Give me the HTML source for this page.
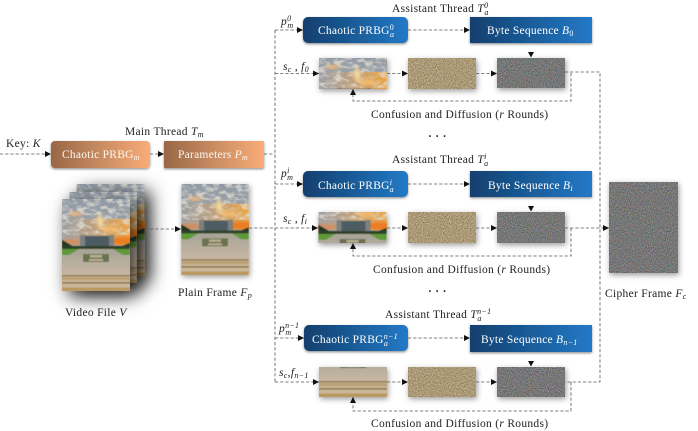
<!DOCTYPE html>
<html><head><meta charset="utf-8"><style>
html,body{margin:0;padding:0;background:#fff;width:698px;height:431px;overflow:hidden}
svg{display:block}
text{font-family:"Liberation Serif",serif;font-size:11.5px;fill:#222;letter-spacing:.3px}
.w{fill:#fff;font-size:11.5px;letter-spacing:.25px}
.o{fill:#fff6ee;font-size:11.5px;letter-spacing:.25px}
.i{font-style:italic}
.s{font-size:8px;font-style:italic}
.b{font-weight:bold}
.l{fill:none;stroke:#555;stroke-width:.8;stroke-dasharray:3.2 2}
</style></head><body>
<svg width="698" height="431" viewBox="0 0 698 431" xmlns="http://www.w3.org/2000/svg">
<defs>
<linearGradient id="og" x1="0" x2="1" y1="0" y2="0"><stop offset="0" stop-color="#986746"/><stop offset=".5" stop-color="#c98c62"/><stop offset="1" stop-color="#f9ac77"/></linearGradient>
<linearGradient id="bg" x1="0" x2="1" y1="0" y2="0"><stop offset="0" stop-color="#123f6e"/><stop offset=".55" stop-color="#1b609f"/><stop offset="1" stop-color="#2379c6"/></linearGradient>
<linearGradient id="sky" x1="0" x2="0" y1="0" y2="1"><stop offset="0" stop-color="#8f9aa6"/><stop offset=".6" stop-color="#aaa9a6"/><stop offset="1" stop-color="#d9a46e"/></linearGradient>
<linearGradient id="org" x1="0" x2="1" y1="0" y2="0"><stop offset="0" stop-color="#e8924a" stop-opacity="0"/><stop offset=".45" stop-color="#eea04a" stop-opacity=".4"/><stop offset="1" stop-color="#f0a53a" stop-opacity=".95"/></linearGradient>
<linearGradient id="pav" x1="0" x2="0" y1="0" y2="1"><stop offset="0" stop-color="#b0a99c"/><stop offset="1" stop-color="#c7b8a2"/></linearGradient>
<filter id="sh" x="-20%" y="-30%" width="140%" height="170%"><feDropShadow dx="0" dy="1.2" stdDeviation="1.3" flood-color="#000" flood-opacity=".45"/></filter>
<filter id="big" x="-50%" y="-30%" width="210%" height="170%"><feDropShadow dx="6" dy="6" stdDeviation="9" flood-color="#000" flood-opacity=".7"/></filter>
<filter id="sm" x="-25%" y="-40%" width="150%" height="190%"><feDropShadow dx="1" dy="2" stdDeviation="3" flood-color="#000" flood-opacity=".4"/></filter>
<filter id="bl" x="-10%" y="-10%" width="120%" height="120%"><feGaussianBlur stdDeviation=".5"/></filter>
<filter id="bl2" x="-30%" y="-30%" width="160%" height="160%"><feGaussianBlur stdDeviation="1.6"/></filter>
<filter id="cl" x="0" y="0" width="100%" height="100%" color-interpolation-filters="sRGB"><feTurbulence type="fractalNoise" baseFrequency=".13 .24" numOctaves="3" seed="21"/><feColorMatrix values="0 0 0 0 .88  0 0 0 0 .86  0 0 0 0 .82  3.2 0 0 0 -1.35"/></filter>
<filter id="gray" x="0" y="0" width="100%" height="100%" color-interpolation-filters="sRGB"><feTurbulence type="fractalNoise" baseFrequency=".95" numOctaves="2" seed="4"/><feColorMatrix values=".55 .12 .12 0 .07  .12 .55 .12 0 .07  .12 .12 .55 0 .07  0 0 0 0 1"/><feGaussianBlur stdDeviation=".25"/></filter>
<filter id="sand" x="0" y="0" width="100%" height="100%" color-interpolation-filters="sRGB"><feTurbulence type="fractalNoise" baseFrequency=".85" numOctaves="2" seed="9"/><feColorMatrix values=".3 .3 .3 0 .22  .3 .3 .3 0 .15  .27 .27 .27 0 .06  0 0 0 0 1"/><feGaussianBlur stdDeviation=".25"/></filter>
<marker id="a" markerUnits="userSpaceOnUse" markerWidth="7" markerHeight="7" refX="6" refY="3" orient="auto"><path d="M0 0L6 3L0 6z" fill="#111"/></marker>
<g id="photo">
 <rect width="68" height="92" fill="url(#sky)"/>
 <rect y="20" width="68" height="26" fill="url(#org)"/>
 <rect width="68" height="36" filter="url(#cl)" opacity=".85"/>
 <g filter="url(#bl2)">
  <ellipse cx="62" cy="42" rx="14" ry="4" fill="#ea7a20"/>
  <ellipse cx="8" cy="43" rx="12" ry="2.5" fill="#d98a55"/>
  <ellipse cx="38" cy="22" rx="3" ry="7" fill="#f3d79a"/>
  <ellipse cx="14" cy="15" rx="7" ry="2" fill="#eab47c"/>
  <ellipse cx="48" cy="30" rx="9" ry="3" fill="#f0b767"/>
 </g>
 <g filter="url(#bl)">
  <rect x="18" y="37" width="34" height="10" fill="#4e5c62"/>
  <rect x="18" y="36" width="5" height="11" fill="#7c8080"/>
  <rect x="47" y="36" width="5" height="11" fill="#7c8080"/>
  <path d="M0 41L5 44L12 48H0z" fill="#263524"/>
  <path d="M68 44L58 48H68z" fill="#263524"/>
  <rect x="0" y="47" width="68" height="3" fill="#2f4329"/>
  <rect x="0" y="50" width="68" height="6" fill="#aaa697"/>
  <path d="M0 50H17L7 56H0z" fill="#5f9a38"/>
  <path d="M68 50H51L61 56H68z" fill="#5f9a38"/>
  <rect x="0" y="56" width="68" height="21" fill="url(#pav)"/>
  <rect x="21" y="55" width="26" height="8" fill="#6a7350"/>
  <rect x="28" y="56" width="12" height="2.5" fill="#b9ad92"/>
  <rect x="27" y="60" width="14" height="2" fill="#b9ad92"/>
  <rect x="0" y="76" width="68" height="16" fill="#cbb79a"/>
  <rect x="0" y="76" width="68" height="1.4" fill="#8f7650"/>
  <rect x="0" y="78" width="68" height="3" fill="#b9a076"/>
  <rect x="0" y="83" width="68" height="1.6" fill="#8e744e"/>
  <rect x="0" y="88.5" width="68" height="3.5" fill="#b8985f"/>
 </g>
</g>
</defs>

<!-- video stack -->
<g filter="url(#big)"><svg x="76" y="184" width="69" height="92" viewBox="0 0 68 92"><use href="#photo"/></svg></g>
<g filter="url(#big)"><svg x="69" y="192" width="68" height="91" viewBox="0 0 68 92"><use href="#photo"/></svg></g>
<g filter="url(#big)"><svg x="62" y="199" width="68" height="92" viewBox="0 0 68 92"><use href="#photo"/></svg></g>
<g filter="url(#sm)"><svg x="181" y="184" width="68" height="91" viewBox="0 0 68 92"><use href="#photo"/></svg></g>

<!-- cipher frame -->
<rect x="609" y="182" width="69" height="91" fill="#777" filter="url(#sm)"/>
<rect x="609" y="182" width="69" height="91" filter="url(#gray)"/>

<!-- row images -->
<g filter="url(#sm)"><svg x="319" y="58" width="68" height="31" viewBox="0 6 68 31"><use href="#photo"/></svg></g>
<g filter="url(#sm)"><svg x="318" y="212" width="69" height="31" viewBox="0 28 68 31"><use href="#photo"/></svg></g>
<g filter="url(#sm)"><svg x="319" y="367" width="68" height="30" viewBox="0 62 68 30"><use href="#photo"/></svg></g>
<g filter="url(#sm)"><rect x="408" y="58" width="68" height="31" fill="#a89a78"/><rect x="408" y="212" width="68" height="31" fill="#a89a78"/><rect x="408" y="367" width="68" height="30" fill="#a89a78"/><rect x="497" y="58" width="68" height="30" fill="#777"/><rect x="497" y="212" width="68" height="31" fill="#777"/><rect x="497" y="367" width="68" height="30" fill="#777"/></g>
<rect x="408" y="58" width="68" height="31" filter="url(#sand)"/>
<rect x="408" y="212" width="68" height="31" filter="url(#sand)"/>
<rect x="408" y="367" width="68" height="30" filter="url(#sand)"/>
<rect x="497" y="58" width="68" height="30" filter="url(#gray)"/>
<rect x="497" y="212" width="68" height="31" filter="url(#gray)"/>
<rect x="497" y="367" width="68" height="30" filter="url(#gray)"/>

<!-- boxes -->
<g filter="url(#sh)">
<rect x="51" y="141" width="99" height="27" rx="4" fill="url(#og)"/>
<rect x="164" y="141" width="100" height="27" rx="1" fill="url(#og)"/>
<rect x="303" y="17" width="105" height="26" rx="5" fill="url(#bg)"/>
<rect x="470" y="17" width="122" height="26" fill="url(#bg)"/>
<rect x="303" y="171" width="105" height="26" rx="5" fill="url(#bg)"/>
<rect x="470" y="171" width="122" height="26" fill="url(#bg)"/>
<rect x="304" y="325" width="104" height="26" rx="5" fill="url(#bg)"/>
<rect x="470" y="325" width="122" height="27" fill="url(#bg)"/>
</g>

<!-- connectors -->
<path class="l" d="M275 30V382"/>
<path class="l" d="M0 154H51" marker-end="url(#a)"/>
<path class="l" d="M150 154H164" marker-end="url(#a)"/>
<path class="l" d="M264 154H275"/>
<path class="l" d="M145 229H181" marker-end="url(#a)"/>
<path class="l" d="M249 228H275"/>
<path class="l" d="M275 30H303" marker-end="url(#a)"/>
<path class="l" d="M275 73.5H319" marker-end="url(#a)"/>
<path class="l" d="M275 184H303" marker-end="url(#a)"/>
<path class="l" d="M275 228H318" marker-end="url(#a)"/>
<path class="l" d="M275 338H304" marker-end="url(#a)"/>
<path class="l" d="M275 382H319" marker-end="url(#a)"/>
<path class="l" d="M408 30H470" marker-end="url(#a)"/>
<path class="l" d="M408 184H470" marker-end="url(#a)"/>
<path class="l" d="M408 338H470" marker-end="url(#a)"/>
<path class="l" d="M387 73.5H408" marker-end="url(#a)"/>
<path class="l" d="M476 73.5H497" marker-end="url(#a)"/>
<path class="l" d="M387 228H408" marker-end="url(#a)"/>
<path class="l" d="M476 228H497" marker-end="url(#a)"/>
<path class="l" d="M387 382H408" marker-end="url(#a)"/>
<path class="l" d="M476 382H497" marker-end="url(#a)"/>
<path class="l" d="M571 73V101H353V89" marker-end="url(#a)"/>
<path class="l" d="M571 228V256H353V243" marker-end="url(#a)"/>
<path class="l" d="M571 382V411H353V397" marker-end="url(#a)"/>
<path class="l" d="M565 72H600V382H565"/>
<path class="l" d="M565 228H609" marker-end="url(#a)"/>
<path d="M528 52H534L531 57.5z" fill="#111"/>
<path d="M528 206H534L531 211.5z" fill="#111"/>
<path d="M528 361H534L531 366.5z" fill="#111"/>

<!-- labels -->
<text x="6" y="147">Key: <tspan class="i">K</tspan></text>
<text x="125" y="135">Main Thread <tspan class="i">T</tspan><tspan class="s" dy="2">m</tspan></text>
<text class="o" x="62" y="158">Chaotic PRBG<tspan font-size="8" font-style="italic" dy="2">m</tspan></text>
<text class="o" x="178" y="158">Parameters <tspan class="i">P</tspan><tspan font-size="8" font-style="italic" dy="2">m</tspan></text>
<text x="65" y="316">Video File <tspan class="i">V</tspan></text>
<text x="178" y="296">Plain Frame <tspan class="i">F</tspan><tspan class="s" dy="2">p</tspan></text>
<text x="605" y="297">Cipher Frame <tspan class="i">F</tspan><tspan class="s" dy="2">c</tspan></text>

<text x="392" y="12">Assistant Thread <tspan class="i">T</tspan><tspan class="s" dy="-4">0</tspan><tspan class="s" dx="-4" dy="7">a</tspan></text>
<text x="281" y="25" class="i">p<tspan class="s" dy="-4">0</tspan><tspan class="s" dx="-4" dy="7">m</tspan></text>
<text x="283" y="70" class="i">s<tspan class="s" dy="2">c</tspan><tspan dy="-2" font-style="normal"> , </tspan>f<tspan class="s" dy="2" font-style="normal">0</tspan></text>
<text class="w" x="318" y="34">Chaotic PRBG<tspan font-size="8" dy="-4">0</tspan><tspan font-size="8" font-style="italic" dx="-4" dy="7">a</tspan></text>
<text class="w" x="487" y="34">Byte Sequence <tspan class="i">B</tspan><tspan font-size="8" dy="2">0</tspan></text>
<text x="371" y="118">Confusion and Diffusion (<tspan class="i">r</tspan> Rounds)</text>
<text x="428" y="140" class="b">· · ·</text>

<text x="392" y="163">Assistant Thread <tspan class="i">T</tspan><tspan class="s" dy="-4">i</tspan><tspan class="s" dx="-2.5" dy="7">a</tspan></text>
<text x="281" y="177" class="i">p<tspan class="s" dy="-4">i</tspan><tspan class="s" dx="-2.5" dy="7">m</tspan></text>
<text x="283" y="222" class="i">s<tspan class="s" dy="2">c</tspan><tspan dy="-2" font-style="normal"> , </tspan>f<tspan class="s" dy="2">i</tspan></text>
<text class="w" x="318" y="189">Chaotic PRBG<tspan font-size="8" font-style="italic" dy="-4">i</tspan><tspan font-size="8" font-style="italic" dx="-2.5" dy="7">a</tspan></text>
<text class="w" x="488" y="189">Byte Sequence <tspan class="i">B</tspan><tspan font-size="8" font-style="italic" dy="2">i</tspan></text>
<text x="373" y="273">Confusion and Diffusion (<tspan class="i">r</tspan> Rounds)</text>
<text x="428" y="295" class="b">· · ·</text>

<text x="385" y="318">Assistant Thread <tspan class="i">T</tspan><tspan class="s" dy="-4">n−1</tspan><tspan class="s" dx="-14" dy="7">a</tspan></text>
<text x="279" y="332" class="i">p<tspan class="s" dy="-4">n−1</tspan><tspan class="s" dx="-14" dy="7">m</tspan></text>
<text x="279" y="376" class="i">s<tspan class="s" dy="2">c</tspan><tspan dy="-2" font-style="normal">,</tspan>f<tspan class="s" dy="2">n−1</tspan></text>
<text class="w" x="312" y="343">Chaotic PRBG<tspan font-size="8" font-style="italic" dy="-4">n−1</tspan><tspan font-size="8" font-style="italic" dx="-14" dy="7">a</tspan></text>
<text class="w" x="481" y="343">Byte Sequence <tspan class="i">B</tspan><tspan font-size="8" font-style="italic" dy="2">n−1</tspan></text>
<text x="371" y="427">Confusion and Diffusion (<tspan class="i">r</tspan> Rounds)</text>
</svg>
</body></html>
